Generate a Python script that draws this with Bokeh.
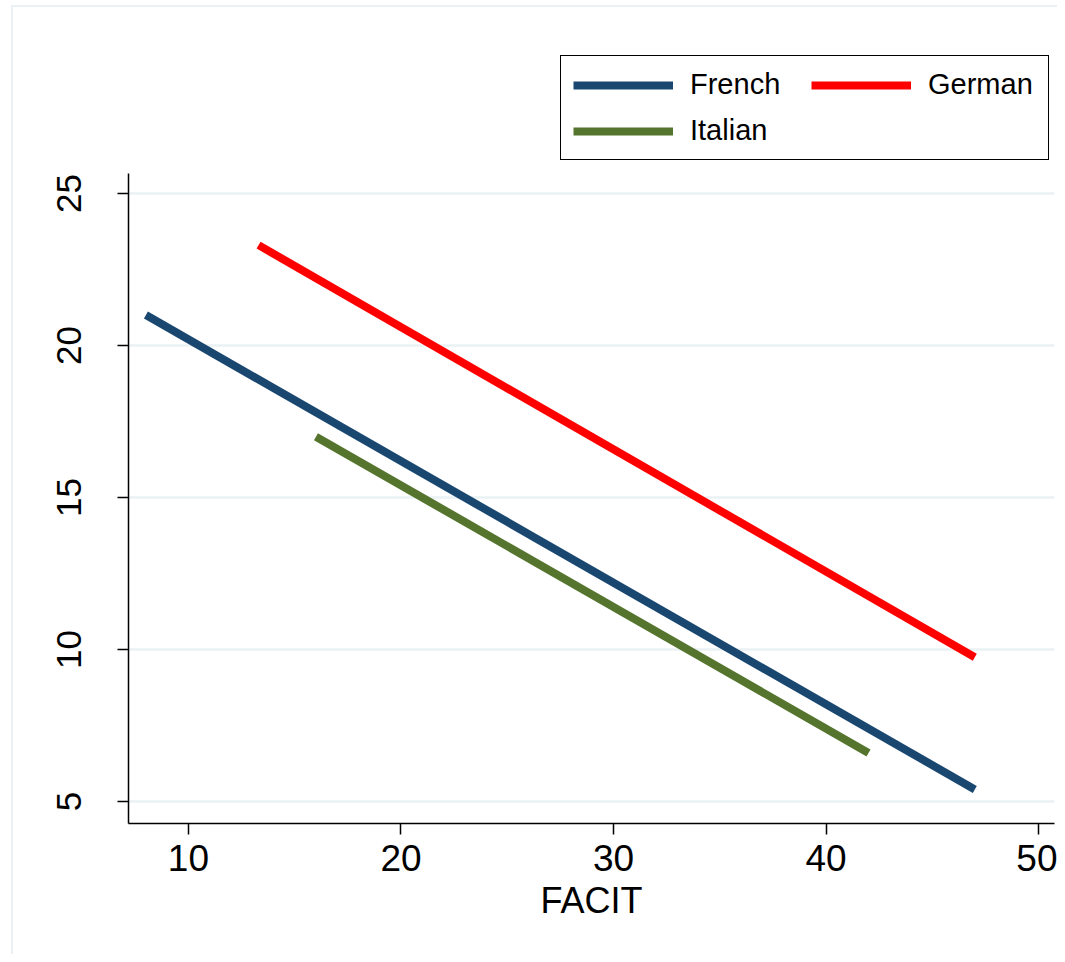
from bokeh.plotting import figure
from bokeh.models import Range1d, Legend, LegendItem, FixedTicker
from bokeh.embed import file_html
from bokeh.resources import INLINE

# Data (fitted lines: predicted score vs FACIT)
languages = ["French", "German", "Italian"]
colors = ["#1a476f", "#ff0000", "#55752f"]
facit_start = [8.0, 13.3, 16.0]
facit_end = [47.0, 47.0, 42.0]
pred_start = [21.0, 23.3, 17.0]
pred_end = [5.4, 9.75, 6.6]
x_ticks = [10, 20, 30, 40, 50]
y_ticks = [5, 10, 15, 20, 25]

FONT = "Liberation Sans"

# frame extends upward to hold the legend; the y axis line is bounded to the data region
p = figure(width=1057, height=954, output_backend="svg", toolbar_location=None,
           x_range=Range1d(7.18, 50.75), y_range=Range1d(4.28, 30.03),
           min_border_left=128, min_border_right=3, min_border_top=40, min_border_bottom=131)
p.outline_line_color = None
p.background_fill_color = "white"
p.border_fill_color = None
# faint outer graph-region border (top and left edges), as in the reference
p.styles = {
    "background-color": "white",
    "background-image": "linear-gradient(#e9f1f3, #e9f1f3), linear-gradient(#e9f1f3, #e9f1f3)",
    "background-size": "100% 2px, 2px 100%",
    "background-position": "12px 5px, 11px 5px",
    "background-repeat": "no-repeat",
}

renderers = {}
for lang, c, x0, x1, y0, y1 in zip(languages, colors, facit_start, facit_end, pred_start, pred_end):
    renderers[lang] = p.line([x0, x1], [y0, y1], line_color=c, line_width=8)

# axes
p.xaxis.ticker = FixedTicker(ticks=x_ticks)
p.yaxis.ticker = FixedTicker(ticks=y_ticks)
p.yaxis.bounds = (4.28, 25.66)
for ax in (p.xaxis[0], p.yaxis[0]):
    ax.axis_line_color = "black"
    ax.axis_line_width = 1.5
    ax.major_tick_line_color = "black"
    ax.major_tick_line_width = 1.5
    ax.major_tick_out = 11
    ax.major_tick_in = 0
    ax.minor_tick_line_color = None
    ax.major_label_text_font = FONT
    ax.major_label_text_color = "black"
p.xaxis.major_label_text_font_size = "37px"
p.yaxis.major_label_text_font_size = "35px"
p.yaxis.major_label_orientation = "vertical"
p.yaxis.major_label_standoff = 36
p.xaxis.major_label_standoff = 10
p.xaxis.axis_label = "FACIT"
p.xaxis.axis_label_text_font = FONT
p.xaxis.axis_label_text_font_size = "36px"
p.xaxis.axis_label_text_font_style = "normal"
p.xaxis.axis_label_text_color = "black"
p.xaxis.axis_label_standoff = 6

p.xgrid.grid_line_color = None
p.ygrid.grid_line_color = "#eaf2f3"
p.ygrid.grid_line_width = 2.5

order = ["French", "Italian", "German"]  # column-major fill -> row 1: French, German
legend = Legend(items=[LegendItem(label=l, renderers=[renderers[l]]) for l in order],
                ncols=2, location=(432, 663))
legend.label_text_font = FONT
legend.label_text_font_size = "29px"
legend.label_text_color = "black"
legend.label_width = 108
legend.glyph_width = 100
legend.glyph_height = 30
legend.label_standoff = 17
legend.spacing = 13
legend.padding = 12
legend.margin = 0
legend.border_line_color = "black"
legend.border_line_alpha = 1
legend.border_line_width = 1.5
legend.background_fill_color = "white"
legend.background_fill_alpha = 1
p.add_layout(legend, "center")

open("out.html", "w").write(file_html(p, INLINE))
